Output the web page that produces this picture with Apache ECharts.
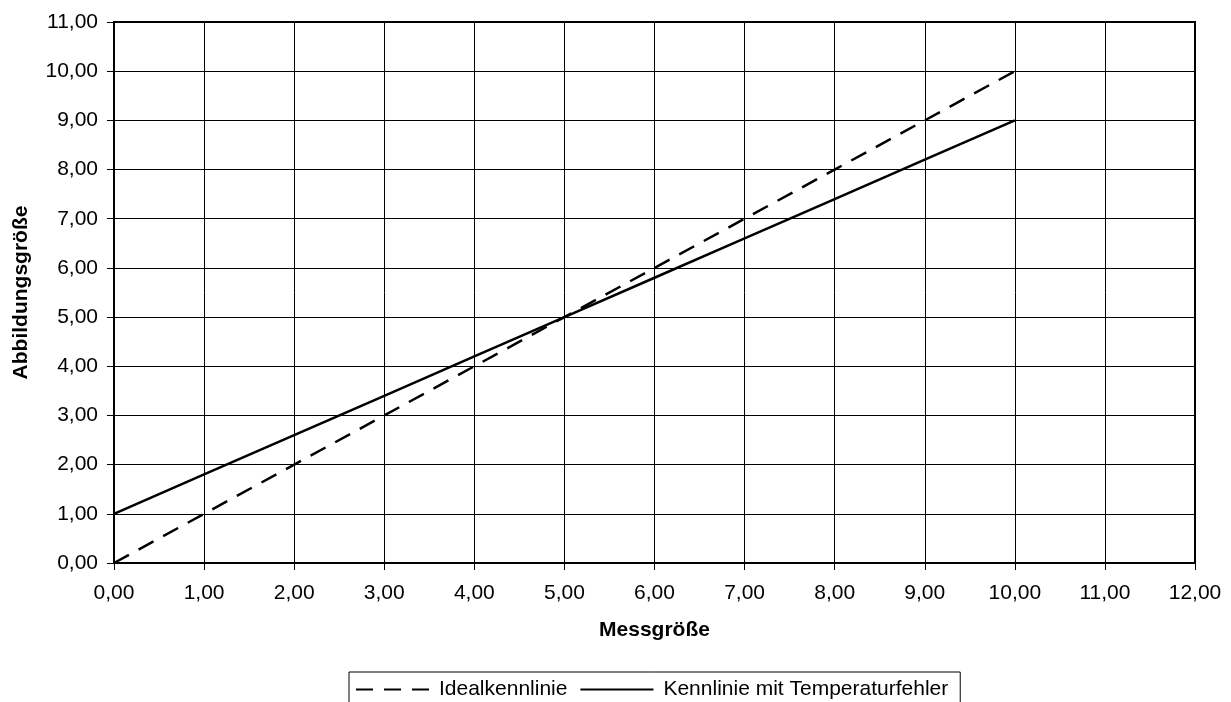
<!DOCTYPE html>
<html>
<head>
<meta charset="utf-8">
<script src="https://cdn.jsdelivr.net/npm/echarts@6/dist/echarts.min.js"></script>
<style>
  html, body { margin: 0; padding: 0; background: #fff; }
  #chart { width: 1231px; height: 702px; }
</style>
</head>
<body>
<div id="chart"></div>
<script>
// Data
const messgroesse = [0, 1, 2, 3, 4, 5, 6, 7, 8, 9, 10];
const idealWerte = [0, 1, 2, 3, 4, 5, 6, 7, 8, 9, 10];
const fehlerWerte = [1.0, 1.8, 2.6, 3.4, 4.2, 5.0, 5.8, 6.6, 7.4, 8.2, 9.0];
const seriesNames = ['Idealkennlinie', 'Kennlinie mit Temperaturfehler'];

const chart = echarts.init(document.getElementById('chart'));
const font = 'Liberation Sans, Arial, sans-serif';
const fmt = v => v.toFixed(2).replace('.', ',');

const axisCommon = {
    type: 'value',
    interval: 1,
    nameLocation: 'middle',
    nameTextStyle: { fontFamily: font, fontSize: 21, fontWeight: 'bold', color: '#000' },
    axisLine: { show: true, lineStyle: { color: '#000', width: 2 } },
    axisTick: { show: true, length: 7, lineStyle: { color: '#000', width: 1 } },
    axisLabel: { fontFamily: font, fontSize: 21, color: '#000', formatter: fmt },
    splitLine: { show: true, lineStyle: { color: '#000', width: 1 } }
};

const option = {
    animation: false,
    backgroundColor: '#fff',
    grid: {
        left: 114, right: 36, top: 22, bottom: 139,
        show: true, borderColor: '#000', borderWidth: 2, backgroundColor: 'transparent'
    },
    xAxis: Object.assign({}, axisCommon, {
        min: 0, max: 12,
        name: 'Messgröße',
        nameGap: 57,
        axisLabel: Object.assign({}, axisCommon.axisLabel, { margin: 20 })
    }),
    yAxis: Object.assign({}, axisCommon, {
        min: 0, max: 11,
        name: 'Abbildungsgröße',
        nameGap: 82,
        axisLabel: Object.assign({}, axisCommon.axisLabel, { margin: 16 })
    }),
    legend: {
        left: 349, top: 672,
        orient: 'horizontal',
        borderColor: '#000', borderWidth: 1,
        padding: [7, 12, 8, 6],
        itemWidth: 73, itemHeight: 20, itemGap: 12,
        itemStyle: { opacity: 0 },
        textStyle: { fontFamily: font, fontSize: 21, color: '#000', padding: [0, 0, 0, 5] },
        data: seriesNames
    },
    series: [
        {
            name: seriesNames[0],
            type: 'line',
            data: messgroesse.map((x, i) => [x, idealWerte[i]]),
            symbol: 'none',
            lineStyle: { color: '#000', width: 2.5, type: [17, 11] },
            itemStyle: { color: '#000' },
            z: 3
        },
        {
            name: seriesNames[1],
            type: 'line',
            data: messgroesse.map((x, i) => [x, fehlerWerte[i]]),
            symbol: 'none',
            lineStyle: { color: '#000', width: 2.5, type: 'solid' },
            itemStyle: { color: '#000' },
            z: 3
        }
    ]
};

chart.setOption(option);
</script>
</body>
</html>
